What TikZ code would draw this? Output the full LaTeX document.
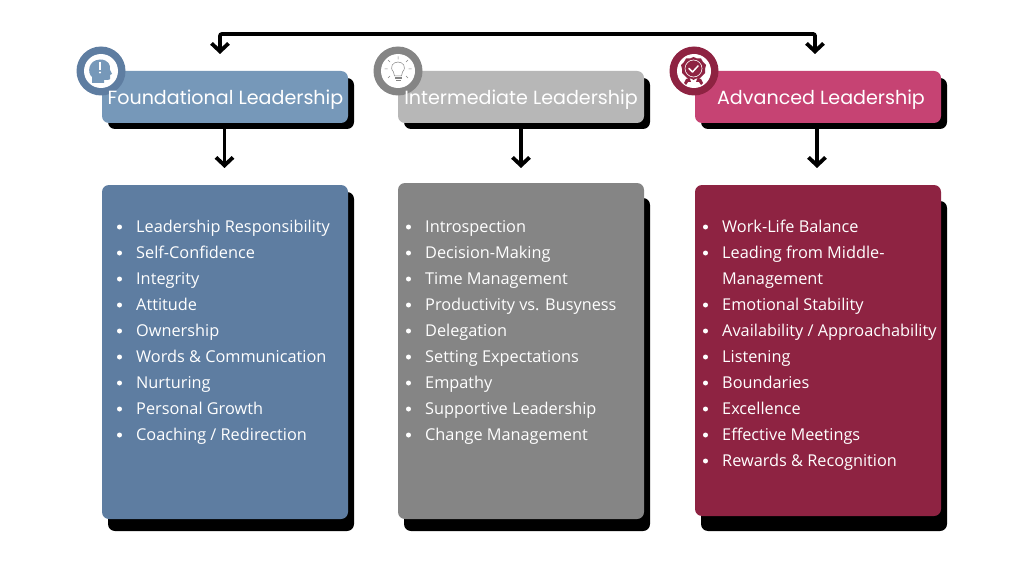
\documentclass[tikz,border=0pt]{standalone}
\usepackage{fontspec}
\setmainfont{Open Sans}
\newfontfamily\headfont{Poppins}
\usetikzlibrary{arrows.meta}
\definecolor{blueHead}{HTML}{7698B9}
\definecolor{blueBody}{HTML}{5E7DA1}
\definecolor{grayHead}{HTML}{B7B7B7}
\definecolor{grayBody}{HTML}{858585}
\definecolor{pinkHead}{HTML}{C64373}
\definecolor{pinkBody}{HTML}{8E2342}
\tikzset{
  x=1pt,y=-1pt,
  shadowbox/.style={fill=black,rounded corners=7pt},
  panel/.style={rounded corners=7pt},
  headtext/.style={text=white,font=\headfont\fontsize{19.1}{24}\selectfont,inner sep=0pt,anchor=center},
  item/.style={text=white,font=\fontsize{16.3}{20}\selectfont,inner sep=0pt,anchor=base west},
  dot/.style={circle,fill=white,inner sep=0pt,minimum size=5pt},
  conn/.style={line width=3.8pt,-{Straight Barb[length=8pt,width=17pt,line width=3.8pt]}},
}
\newcommand{\bulletitem}[3]{%
  \node[dot] at (#1-16.5,#2-5) {};
  \node[item] at (#1,#2) {#3};
}
\begin{document}
\begin{tikzpicture}
\useasboundingbox (0,0) rectangle (1023,575);
\fill[white] (0,0) rectangle (1023,575);

% shadows
\fill[shadowbox] (108,78) rectangle (354,129);
\fill[shadowbox] (404,78) rectangle (650,129);
\fill[shadowbox] (701,78) rectangle (947,129);
\fill[shadowbox] (108,192) rectangle (354,531);
\fill[shadowbox] (404,198) rectangle (650,531);
\fill[shadowbox] (701,201) rectangle (947,531);

% panels
\path[panel,fill=blueHead] (102,71) rectangle (348,123);
\path[panel,fill=grayHead] (398,71) rectangle (644,123);
\path[panel,fill=pinkHead] (695,71) rectangle (941,123);
\path[panel,fill=blueBody] (102,185) rectangle (348,519);
\path[panel,fill=grayBody] (398,183) rectangle (644,519);
\path[panel,fill=pinkBody] (695,185) rectangle (941,516);

% named anchors
\coordinate (h1) at (224.5,129);
\coordinate (h2) at (521,129);
\coordinate (h3) at (817,129);
\coordinate (b1) at (224.5,168);
\coordinate (b2) at (521,168);
\coordinate (b3) at (817,168);
\coordinate (tl) at (220,54);
\coordinate (tr) at (815,54);
\coordinate (tm) at (500,34);
\draw[conn] (h1) -- (b1);
\draw[conn] (h2) -- (b2);
\draw[conn] (h3) -- (b3);
\draw[conn,rounded corners=2pt] (tm) -- (815,34) -- (tr);
\draw[conn,rounded corners=2pt] (tm) -- (220,34) -- (tl);

% badges
\fill[blueBody] (101,71) circle (24.5);
\fill[white] (101,71) circle (17);
\fill[grayBody] (398,71) circle (24.5);
\fill[white] (398,71) circle (17);
\fill[pinkBody] (694,71) circle (24.5);
\fill[white] (694,71) circle (17);

% head icon
\fill[blueHead] (92,83) -- (92,77) .. controls (87,73) and (88,60) .. (100,59.5)
  .. controls (108,59.5) and (111,65) .. (110,70) -- (112,74) -- (110,75) -- (110,79)
  .. controls (110,80) and (106,80) .. (104,80) -- (104,83) -- cycle;
\fill[white] (99.2,62.5) rectangle (100.8,70);
\fill[white] (100,72.5) circle (1.1);

% bulb icon
\draw[grayBody,line width=.5pt] (393.5,72) .. controls (389,67) and (393,62) .. (398,62)
  .. controls (403,62) and (407,67) .. (402.5,72) -- (401.5,76) -- (394.5,76) -- cycle;
\fill[grayBody] (394.5,77) rectangle (401.5,79);
\fill[grayBody] (395.5,80) rectangle (400.5,81.5);
\draw[grayBody,line width=.5pt] (398,56.5) -- (398,59.5)
  (388,60) -- (390,62) (408,60) -- (406,62)
  (384.5,69) -- (387.5,69) (408.5,69) -- (411.5,69)
  (388,78) -- (390,76) (408,78) -- (406,76);

% award icon
\fill[pinkBody] (693.5,57) -- (697,58.5) -- (701,58.5) -- (703,62) -- (706,65) -- (705,69) -- (705,73)
  -- (702,76) -- (699,79) -- (696,78.5) -- (693.5,80) -- (691,78.5) -- (688,79) -- (685,76) -- (682,73)
  -- (682,69) -- (681,65) -- (684,62) -- (686,58.5) -- (690,58.5) -- cycle;
\draw[white,line width=.6pt] (693.5,68.5) circle (8.5);
\draw[white,line width=1.5pt,line cap=round,line join=round] (689,68.5) -- (692.5,72) -- (698,66);
\fill[pinkBody] (686,79) -- (690,79) -- (691,82) -- (688,82) -- (686,85) -- (684,83) -- cycle;
\fill[pinkBody] (701,79) -- (697,79) -- (696,82) -- (699,82) -- (701,85) -- (703,83) -- cycle;

% headings
\node[headtext] (t1) at (225.5,99.5) {Foundational Leadership};
\node[headtext] (t2) at (521,99.5) {Intermediate Leadership};
\node[headtext] (t3) at (821,99.5) {Advanced Leadership};

% lists
\bulletitem{136}{232}{Leadership Responsibility}
\bulletitem{136}{258}{Self-Confidence}
\bulletitem{136}{284}{Integrity}
\bulletitem{136}{310}{Attitude}
\bulletitem{136}{336}{Ownership}
\bulletitem{136}{362}{Words \& Communication}
\bulletitem{136}{388}{Nurturing}
\bulletitem{136}{414}{Personal Growth}
\bulletitem{136}{440}{Coaching / Redirection}

\bulletitem{425}{232}{Introspection}
\bulletitem{425}{258}{Decision-Making}
\bulletitem{425}{284}{Time Management}
\bulletitem{425}{310}{Productivity vs. Busyness}
\bulletitem{425}{336}{Delegation}
\bulletitem{425}{362}{Setting Expectations}
\bulletitem{425}{388}{Empathy}
\bulletitem{425}{414}{Supportive Leadership}
\bulletitem{425}{440}{Change Management}

\bulletitem{722}{232}{Work-Life Balance}
\bulletitem{722}{258}{Leading from Middle-}
\node[item] (m) at (722,284) {Management};
\bulletitem{722}{310}{Emotional Stability}
\bulletitem{722}{336}{Availability / Approachability}
\bulletitem{722}{362}{Listening}
\bulletitem{722}{388}{Boundaries}
\bulletitem{722}{414}{Excellence}
\bulletitem{722}{440}{Effective Meetings}
\bulletitem{722}{466}{Rewards \& Recognition}
\end{tikzpicture}
\end{document}
